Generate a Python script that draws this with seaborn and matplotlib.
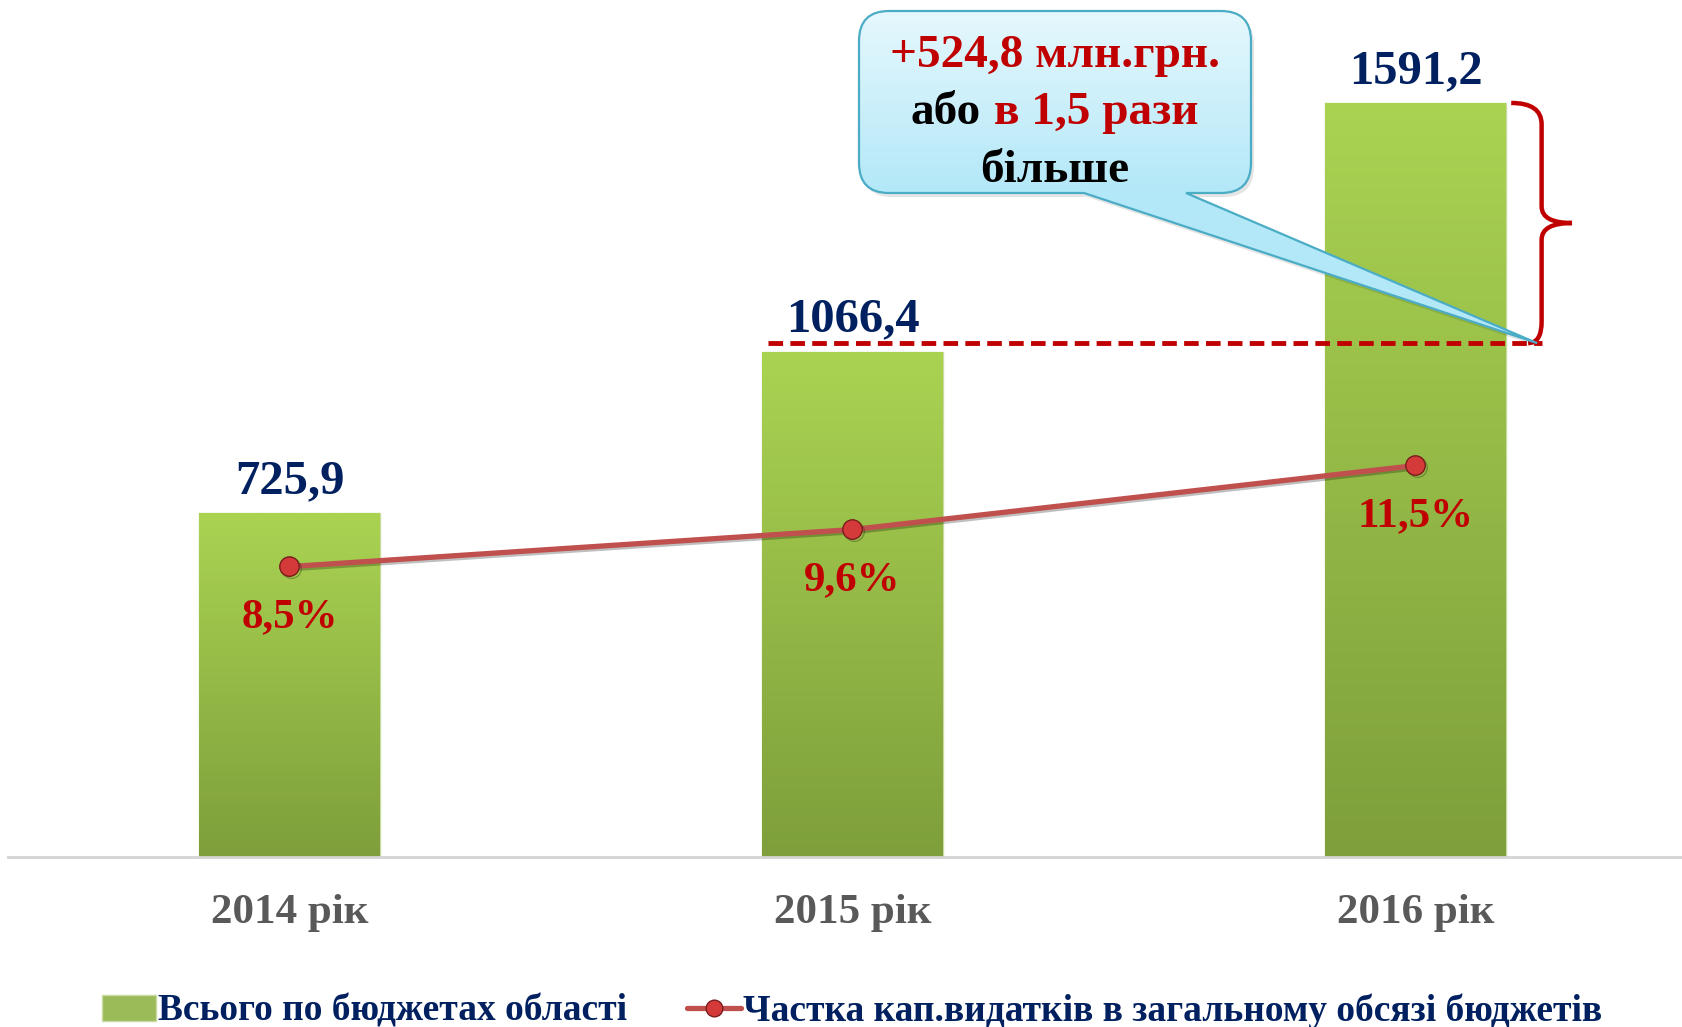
import numpy as np
import matplotlib
matplotlib.use('Agg')
import matplotlib.pyplot as plt
import seaborn as sns
from matplotlib.path import Path
from matplotlib.patches import PathPatch, Patch
from matplotlib.lines import Line2D
from matplotlib.colors import to_rgb
import matplotlib.patheffects as pe
import matplotlib.transforms as mtransforms

# Data
years = ['2014 рік', '2015 рік', '2016 рік']
budget_total = [725.9, 1066.4, 1591.2]
capex_share = [8.5, 9.6, 11.5]
total_labels = ['725,9', '1066,4', '1591,2']
share_labels = ['8,5%', '9,6%', '11,5%']
growth_abs = '+524,8 млн.грн.'
growth_word = 'або'
growth_rel = 'в 1,5 рази'
growth_tail = 'більше'
legend_labels = ['Всього по бюджетах області',
                 'Частка кап.видатків в загальному обсязі бюджетів']

NAVY = '#002060'
RED = '#c00000'
LINE_RED = '#c0504d'
GREY = '#595959'

sns.set_style('white')
plt.rcParams['font.family'] = ['Liberation Serif', 'DejaVu Serif']
plt.rcParams['font.weight'] = 'bold'

W, H = 1683, 1027
fig = plt.figure(figsize=(W / 100, H / 100), dpi=100)
ax = fig.add_axes([8 / W, 170 / H, 1689 / W, 853 / H])

# Bars
sns.barplot(x=years, y=budget_total, ax=ax, width=0.32, color='#9bbb59',
            edgecolor='#c9dba3', linewidth=1, zorder=2)
ax.set_xlim(-0.5, 2.5)
ax.set_ylim(0, 1800)

# vertical gradient on each bar
top_c, bot_c = np.array(to_rgb('#aad352')), np.array(to_rgb('#7e9f3b'))
grad = np.linspace(0, 1, 256)[:, None, None]
grad_img = bot_c + (top_c - bot_c) * grad
for bar in ax.patches:
    x0, w, h = bar.get_x(), bar.get_width(), bar.get_height()
    im = ax.imshow(grad_img, extent=(x0, x0 + w, 0, h), origin='lower',
                   aspect='auto', zorder=2.5)
    im.set_clip_path(bar)
ax.set_xlim(-0.5, 2.5)
ax.set_ylim(0, 1800)

for i, v in enumerate(budget_total):
    ax.annotate(total_labels[i], (i, v), xytext=(0, 14.5), textcoords='offset points',
                ha='center', va='baseline', fontsize=35, color=NAVY, fontweight='bold')

for s in ['top', 'left', 'right']:
    ax.spines[s].set_visible(False)
ax.spines['bottom'].set_color('#d4d4d4')
ax.spines['bottom'].set_linewidth(2)
ax.set_yticks([])
ax.tick_params(axis='x', length=0, pad=27, labelsize=31, labelcolor=GREY)
for t in ax.get_xticklabels():
    t.set_fontweight('bold')

# Share line on secondary axis
ax2 = ax.twinx()
sns.lineplot(x=np.arange(len(years)), y=capex_share, ax=ax2, color=LINE_RED,
             linewidth=3.8, marker='o', markersize=14, markerfacecolor='#d43a3a',
             markeredgecolor='#7a1c1c', markeredgewidth=1,
             path_effects=[pe.SimpleLineShadow(offset=(1.5, -1.5), alpha=0.25), pe.Normal()])
ax2.set_ylim(-0.12, 25.2)
ax2.set_yticks([])
for s in ax2.spines.values():
    s.set_visible(False)
for i, v in enumerate(capex_share):
    ax2.annotate(share_labels[i], (i, v), xytext=(0, -36.5), textcoords='offset points',
                 ha='center', va='center', fontsize=31, color=RED, fontweight='bold')

# Dashed reference line at 2015 level and brace
gap = 18
ref_y = budget_total[1] + gap
ax.plot([0.85, 2.225], [ref_y, ref_y], color=RED, lw=3.5, dashes=(3, 1.5),
        zorder=4, clip_on=False)
top_y = budget_total[2]
mid_y = (top_y + ref_y) / 2
vx, lx, tx = 2.224, 2.17, 2.278
brace = Path([(lx, top_y), (vx, top_y), (vx, top_y - 45),
              (vx, mid_y + 35), (vx, mid_y), (tx, mid_y),
              (vx, mid_y), (vx, mid_y - 35),
              (vx, ref_y + 45), (vx, ref_y), (2.20, ref_y)],
             [Path.MOVETO, Path.CURVE3, Path.CURVE3,
              Path.LINETO, Path.CURVE3, Path.CURVE3,
              Path.CURVE3, Path.CURVE3,
              Path.LINETO, Path.CURVE3, Path.CURVE3])
ax.add_patch(PathPatch(brace, facecolor='none', edgecolor=RED, lw=3.2,
                       zorder=4, clip_on=False))

# Callout on a full-figure overlay (pixel coords, y down)
ov = fig.add_axes([0, 0, 1, 1], zorder=5)
ov.set_xlim(0, W)
ov.set_ylim(H, 0)
ov.axis('off')
fig.canvas.draw()
tip_disp = ax.transData.transform((2.216, ref_y))
tx_px, ty_px = ov.transData.inverted().transform(tip_disp)

x0, x1, y0, y1, r = 859, 1251, 11, 193, 30
a, b = 1084, 1186
verts = [(x0 + r, y0), (x1 - r, y0), (x1, y0), (x1, y0 + r), (x1, y1 - r),
         (x1, y1), (x1 - r, y1), (b, y1), (tx_px, ty_px), (a, y1), (x0 + r, y1),
         (x0, y1), (x0, y1 - r), (x0, y0 + r), (x0, y0), (x0 + r, y0), (x0 + r, y0)]
codes = [Path.MOVETO, Path.LINETO, Path.CURVE3, Path.CURVE3, Path.LINETO,
         Path.CURVE3, Path.CURVE3, Path.LINETO, Path.LINETO, Path.LINETO, Path.LINETO,
         Path.CURVE3, Path.CURVE3, Path.LINETO, Path.CURVE3, Path.CURVE3, Path.CLOSEPOLY]
callout = Path(verts, codes)

shadow = PathPatch(callout, facecolor='#000000', edgecolor='none', alpha=0.10, zorder=0,
                   transform=ov.transData + mtransforms.Affine2D().translate(3, -4))
ov.add_patch(shadow)
c_top, c_bot = np.array(to_rgb('#e6f8fd')), np.array(to_rgb('#b3e8f8'))
rows = np.linspace(y0, ty_px, 300)
frac = np.clip((rows - y0) / (y1 - y0), 0, 1)[:, None, None]
c_img = c_top + (c_bot - c_top) * frac
cim = ov.imshow(c_img, extent=(x0, tx_px + 2, ty_px, y0), origin='upper',
                aspect='auto', zorder=1)
frame = PathPatch(callout, facecolor='none', edgecolor='#4bacc6', lw=1.6, zorder=2)
ov.add_patch(frame)
cim.set_clip_path(frame)
ov.set_xlim(0, W)
ov.set_ylim(H, 0)

cx = 1055
ov.text(cx, 56, growth_abs, ha='center', va='center', fontsize=34, color=RED,
        fontweight='bold', zorder=3)
ov.text(981, 113, growth_word, ha='right', va='center', fontsize=34, color='black',
        fontweight='bold', zorder=3)
ov.text(994, 113, growth_rel, ha='left', va='center', fontsize=34, color=RED,
        fontweight='bold', zorder=3)
ov.text(cx, 171, growth_tail, ha='center', va='center', fontsize=34, color='black',
        fontweight='bold', zorder=3)

# Legend
handles = [Patch(facecolor='#9bbb59', edgecolor='#c9dba3'),
           Line2D([0], [0], color=LINE_RED, lw=3.8, marker='o', markersize=12,
                  markerfacecolor='#d43a3a', markeredgecolor='#7a1c1c')]
leg = fig.legend(handles, legend_labels, loc='center', bbox_to_anchor=(852 / W, 16 / H),
                 ncol=2, frameon=False, fontsize=27, handlelength=1.45,
                 handletextpad=0.05, columnspacing=1.6)
for t in leg.get_texts():
    t.set_color(NAVY)
    t.set_fontweight('bold')

fig.savefig('out.png', dpi=100)
